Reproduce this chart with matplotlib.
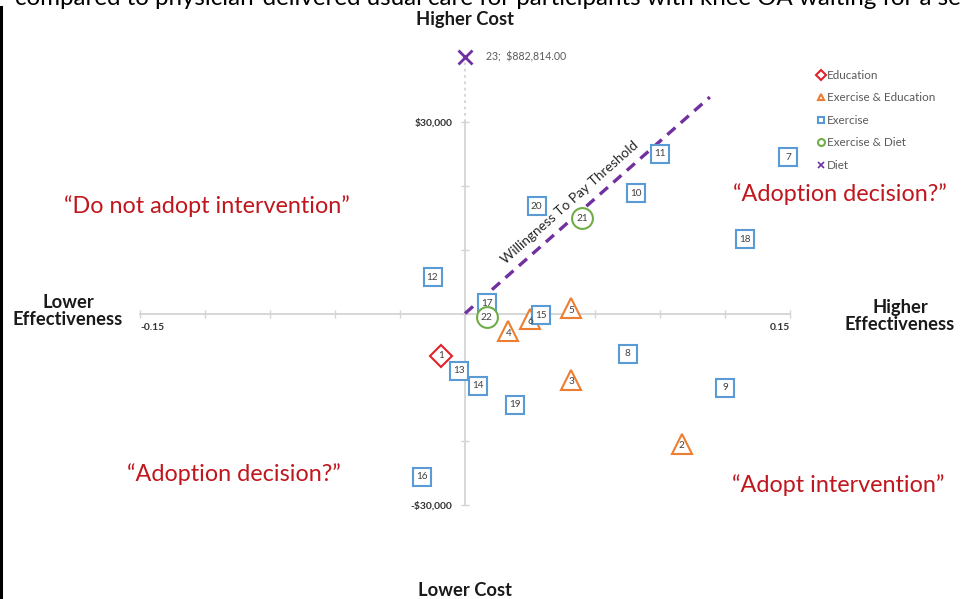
import numpy as np
import matplotlib
matplotlib.use("Agg")
import matplotlib.pyplot as plt
from matplotlib.lines import Line2D

plt.rcParams['font.family'] = ['Lato', 'DejaVu Sans']

# ---- data: incremental effectiveness (QALY) and incremental cost per intervention
ids = list(range(1, 24))
groups = ["Education",
          "Exercise & Education", "Exercise & Education", "Exercise & Education",
          "Exercise & Education", "Exercise & Education",
          "Exercise", "Exercise", "Exercise", "Exercise", "Exercise", "Exercise",
          "Exercise", "Exercise", "Exercise", "Exercise", "Exercise", "Exercise",
          "Exercise", "Exercise",
          "Exercise & Diet", "Exercise & Diet",
          "Diet"]
effect = [-0.011, 0.100, 0.049, 0.020, 0.049, 0.030,
          0.149, 0.075, 0.120, 0.079, 0.090, -0.015, -0.003, 0.006, 0.035,
          -0.020, 0.010, 0.129, 0.023, 0.033,
          0.054, 0.010,
          0.000]
cost = [-6600, -20400, -10400, -2800, 800, -900,
        24500, -6300, -11600, 18800, 25000, 5700, -9000, -11300, -300,
        -25600, 1600, 11600, -14300, 16800,
        14900, -600,
        882814]

legend_order = ["Education", "Exercise & Education", "Exercise",
                "Exercise & Diet", "Diet"]
wtp = 300000          # willingness-to-pay per QALY
wtp_x_end = 0.113

x_ticks = np.round(np.arange(-0.15, 0.1501, 0.03), 2)
y_ticks = np.arange(-30000, 30001, 10000)

styles = {
    "Education":            dict(marker="D", color="#E3222A", ms=11),
    "Exercise & Education": dict(marker="^", color="#ED7D31", ms=15),
    "Exercise":             dict(marker="s", color="#5B9BD5", ms=12.5),
    "Exercise & Diet":      dict(marker="o", color="#70AD47", ms=15),
    "Diet":                 dict(marker="x", color="#7030A0", ms=10),
}

# ---- broken cost axis: linear up to BRK, strongly compressed above
BRK = 38000.0
K = 0.002616


def fwd(y):
    y = np.asarray(y, dtype=float)
    return np.where(y <= BRK, y, BRK + (y - BRK) * K)


def inv(t):
    t = np.asarray(t, dtype=float)
    return np.where(t <= BRK, t, BRK + (t - BRK) / K)


fig = plt.figure(figsize=(9.62, 5.99), dpi=100)
ax = fig.add_axes([0, 0, 1, 1])
ax.set_yscale('function', functions=(fwd, inv))
ax.set_xlim(-0.21462, 0.22938)
ax.set_ylim(-44726, float(inv(49113)))
ax.patch.set_alpha(0)

axis_col = "#D4D4D4"
for s in ("top", "right"):
    ax.spines[s].set_visible(False)
ax.spines["bottom"].set_position(("data", 0))
ax.spines["left"].set_position(("data", 0))
ax.spines["bottom"].set_bounds(-0.15, 0.15)
ax.spines["left"].set_bounds(-30000, 30000)
for s in ("bottom", "left"):
    ax.spines[s].set_color(axis_col)
    ax.spines[s].set_linewidth(1.3)
    ax.spines[s].set_zorder(1)

ax.set_xticks(x_ticks)
ax.set_xticklabels(["-0.15"] + [""] * (len(x_ticks) - 2) + ["0.15"])
ax.set_yticks(y_ticks)
ax.set_yticklabels(["-$30,000"] + [""] * (len(y_ticks) - 2) + ["$30,000"])
ax.yaxis.set_minor_locator(matplotlib.ticker.NullLocator())
ax.tick_params(axis="both", direction="inout", length=6, width=1,
               color=axis_col, labelsize=7.4, labelcolor="#333333")
ax.tick_params(axis="x", pad=4)
ax.tick_params(axis="y", pad=6)
for lab in ax.get_xticklabels() + ax.get_yticklabels():
    lab.set_fontweight("bold")
xl = ax.get_xticklabels()
xl[0].set_horizontalalignment("left")
xl[-1].set_horizontalalignment("right")

# dotted continuation of the cost axis up to the off-scale point
ax.plot([0, 0], [30000, 600000], color=axis_col, lw=1.3, ls=(0, (1.5, 2)),
        zorder=1)

# willingness-to-pay threshold
ax.plot([0, wtp_x_end], [0, wtp * wtp_x_end], color="#7030A0", lw=2.4,
        ls=(0, (3.2, 2.2)), zorder=2)
fig.canvas.draw()
p0 = ax.transData.transform((0, 0))
p1 = ax.transData.transform((wtp_x_end, wtp * wtp_x_end))
ang = np.degrees(np.arctan2(p1[1] - p0[1], p1[0] - p0[0]))
ax.annotate("Willingness To Pay Threshold", xy=(0.0526, wtp * 0.0526),
            xytext=(-6.5, 7.3), textcoords="offset points", rotation=ang,
            rotation_mode="anchor", ha="center", va="center",
            fontsize=9.9, color="#262626")

# intervention markers with their numbers
for i, g, x, y in zip(ids, groups, effect, cost):
    st = styles[g]
    if st["marker"] == "x":
        ax.plot(x, y, marker="x", ls="none", ms=st["ms"], mew=2,
                color=st["color"], zorder=4)
        ax.annotate(f"{i};  ${y:,.2f}", xy=(x, y), xytext=(15, 0),
                    textcoords="offset points", ha="left", va="center",
                    fontsize=7.6, color="#595959")
        continue
    ax.plot(x, y, marker=st["marker"], ls="none", ms=st["ms"], mew=1.5,
            mec=st["color"], mfc="white", zorder=4)
    dy = -1.5 if st["marker"] == "^" else 0
    ax.annotate(str(i), xy=(x, y), xytext=(0, dy), textcoords="offset points",
                ha="center", va="center", fontsize=7.2, color="#404040",
                zorder=5)

# legend
handles = []
for g in legend_order:
    st = styles[g]
    if st["marker"] == "x":
        h = Line2D([], [], marker="x", ls="none", ms=5, mew=1.2,
                   color=st["color"], label=g)
    else:
        h = Line2D([], [], marker=st["marker"], ls="none", ms=5, mew=1.5,
                   mec=st["color"], mfc="white", label=g)
    handles.append(h)
leg = ax.legend(handles=handles, loc="upper left",
                bbox_to_anchor=(818 / 962, 1 - 70 / 599), frameon=False,
                fontsize=8.4, labelcolor="#595959", handlelength=0.5,
                handletextpad=0.3, labelspacing=0.98, borderpad=0,
                borderaxespad=0)

# quadrant labels
red = "#C0161D"
qfs = 16.8
fig.text(207 / 962, 1 - 206 / 599, "\u201cDo not adopt intervention\u201d",
         ha="center", va="center", fontsize=qfs, color=red)
fig.text(840 / 962, 1 - 194 / 599, "\u201cAdoption decision?\u201d",
         ha="center", va="center", fontsize=qfs, color=red)
fig.text(234 / 962, 1 - 474 / 599, "\u201cAdoption decision?\u201d",
         ha="center", va="center", fontsize=qfs, color=red)
fig.text(838 / 962, 1 - 485 / 599, "\u201cAdopt intervention\u201d",
         ha="center", va="center", fontsize=qfs, color=red)

# axis direction labels
bfs = 13.2
fig.text(465 / 962, 1 - 20 / 599, "Higher Cost", ha="center", va="center",
         fontsize=bfs, fontweight="bold", color="#1a1a1a")
fig.text(465 / 962, 1 - 590 / 599, "Lower Cost", ha="center", va="center",
         fontsize=bfs, fontweight="bold", color="#1a1a1a")
fig.text(68 / 962, 1 - 311 / 599, "Lower\nEffectiveness", ha="center",
         va="center", fontsize=bfs, fontweight="bold", color="#1a1a1a",
         linespacing=1.05)
fig.text(900 / 962, 1 - 316 / 599, "Higher\nEffectiveness", ha="center",
         va="center", fontsize=bfs, fontweight="bold", color="#1a1a1a",
         linespacing=1.05)

# caption line running off the top of the page
fig.text(15 / 962, 1 - 5 / 599,
         "compared to physician-delivered usual care for participants with "
         "knee OA waiting for a se",
         ha="left", va="baseline", fontsize=17.4, color="black")
fig.add_artist(Line2D([1.2 / 962, 1.2 / 962], [0, 1 - 7 / 599],
                      transform=fig.transFigure, color="black", lw=2.2))

fig.savefig("out.png", dpi=100)
